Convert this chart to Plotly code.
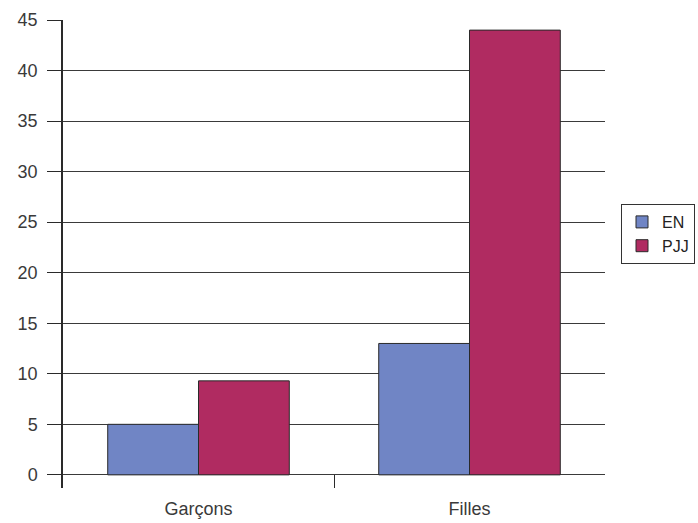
import plotly.graph_objects as go

# Data
categories = ["Garçons", "Filles"]
en_values = [5, 13]
pjj_values = [9.3, 44]
y_ticks = [0, 5, 10, 15, 20, 25, 30, 35, 40, 45]

EN_COLOR = "#7085C5"
PJJ_COLOR = "#B02B61"
LINE = "#2a2a2a"
FONT = dict(family="Liberation Sans, Arial, sans-serif", size=18, color="#3a3a3a")

x_pos = list(range(len(categories)))

fig = go.Figure()
fig.add_trace(go.Bar(
    x=x_pos, y=en_values, name="EN",
    marker=dict(color=EN_COLOR, line=dict(color=LINE, width=1)),
))
fig.add_trace(go.Bar(
    x=x_pos, y=pjj_values, name="PJJ",
    marker=dict(color=PJJ_COLOR, line=dict(color=LINE, width=1)),
))

fig.update_layout(
    width=698, height=523,
    margin=dict(l=63, r=93, t=20, b=35),
    paper_bgcolor="white", plot_bgcolor="white",
    barmode="group", bargap=0.33, bargroupgap=0,
    font=FONT,
    showlegend=True,
    legend=dict(
        xref="container", yref="container",
        x=621 / 698, y=1 - 204 / 523, xanchor="left", yanchor="top",
        bordercolor="#333333", borderwidth=1, bgcolor="white",
        font=dict(family="Liberation Sans, Arial, sans-serif", size=16, color="#222222"),
        itemwidth=30, tracegroupgap=0,
    ),
)

fig.update_xaxes(
    range=[-0.5, 1.5], automargin=False,
    tickmode="array", tickvals=x_pos, ticktext=categories,
    ticks="", showline=False, showgrid=False, zeroline=False,
    ticklabelstandoff=8,
    minor=dict(tickmode="array", tickvals=[0.5], ticks="inside",
               ticklen=13, tickcolor=LINE, tickwidth=1, showgrid=False),
)

fig.update_yaxes(
    range=[-1.3, 45], automargin=False,
    tickmode="array", tickvals=y_ticks,
    ticks="outside", ticklen=14, tickcolor=LINE, tickwidth=1,
    ticklabelstandoff=6,
    showline=True, linecolor=LINE, linewidth=1.5,
    showgrid=True, gridcolor="#3a3a3a", gridwidth=1,
    zeroline=True, zerolinecolor="#3a3a3a", zerolinewidth=1,
)

fig.write_html("out.html")
